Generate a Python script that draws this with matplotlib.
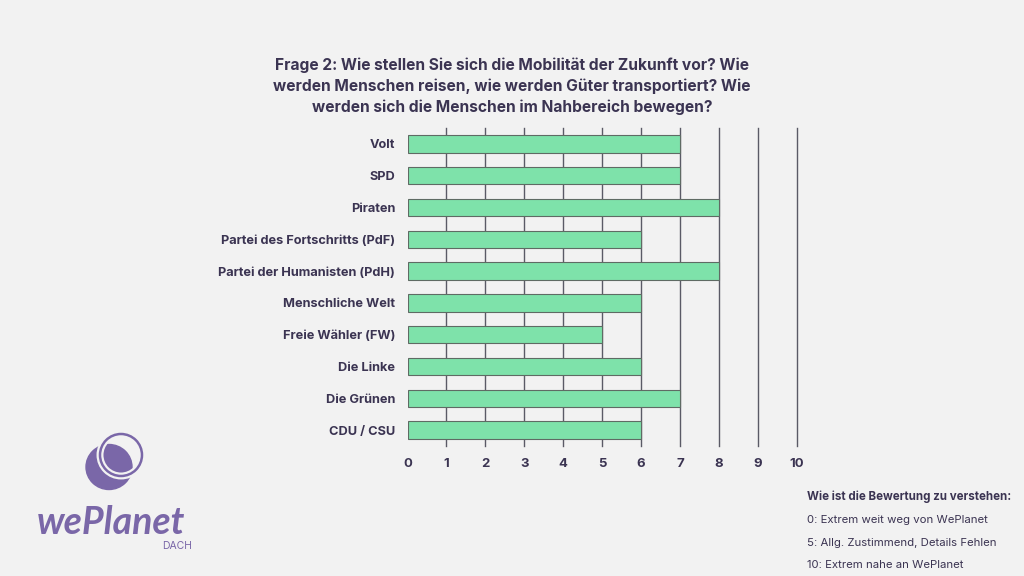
import matplotlib.pyplot as plt
from matplotlib.patches import Ellipse

parties = ['Volt', 'SPD', 'Piraten', 'Partei des Fortschritts (PdF)',
           'Partei der Humanisten (PdH)', 'Menschliche Welt', 'Freie Wähler (FW)',
           'Die Linke', 'Die Grünen', 'CDU / CSU']
scores = [7, 7, 8, 6, 8, 6, 5, 6, 7, 6]
ticks = list(range(0, 11))

title = ('Frage 2: Wie stellen Sie sich die Mobilität der Zukunft vor? Wie\n'
         'werden Menschen reisen, wie werden Güter transportiert? Wie\n'
         'werden sich die Menschen im Nahbereich bewegen?')
legend_head = 'Wie ist die Bewertung zu verstehen:'
legend_lines = ['0: Extrem weit weg von WePlanet',
                '5: Allg. Zustimmend, Details Fehlen',
                '10: Extrem nahe an WePlanet']

bg = '#f2f2f2'
text_col = '#3b3452'
bar_col = '#7ee2aa'
logo_col = '#7a67a8'

plt.rcParams['font.family'] = ['Inter', 'DejaVu Sans']

fig = plt.figure(figsize=(10.24, 5.76), dpi=100, facecolor=bg)
ax = fig.add_axes([0.398, 0.2257, 0.380, 0.552])
ax.set_facecolor(bg)

ypos = list(range(len(parties)))
ax.barh(ypos, scores, height=0.55, color=bar_col, edgecolor='#5f6b64',
        linewidth=0.8, zorder=3)
for t in ticks[1:]:
    ax.axvline(t, color='#5a5a66', linewidth=1.0, zorder=0, clip_on=False)
ax.set_ylim(len(parties) - 0.5, -0.5)
ax.set_xlim(0, 10)
ax.set_xticks(ticks)
ax.set_xticklabels([str(t) for t in ticks], fontweight='bold', fontsize=9.5,
                   color=text_col)
ax.set_yticks(ypos)
ax.set_yticklabels(parties, fontweight='bold', fontsize=9.2, color=text_col)
ax.tick_params(length=0, pad=9)
ax.tick_params(axis='x', pad=9)
for s in ax.spines.values():
    s.set_visible(False)

fig.text(0.5, 1 - 86 / 576, title, ha='center', va='center', fontsize=11.2,
         fontweight='bold', color=text_col, linespacing=1.45)

fig.text(807 / 1024, 1 - 497 / 576, legend_head, ha='left', va='center',
         fontsize=8.3, fontweight='bold', color=text_col)
for i, line in enumerate(legend_lines):
    fig.text(807 / 1024, 1 - (520 + i * 22.5) / 576, line, ha='left',
             va='center', fontsize=8.2, color=text_col)

# logo
fig.patches.append(Ellipse((109 / 1024, 1 - 467 / 576), 46 / 1024, 45 / 576,
                           transform=fig.transFigure, color=logo_col, zorder=5))
fig.patches.append(Ellipse((121 / 1024, 1 - 455 / 576), 42 / 1024, 42 / 576,
                           transform=fig.transFigure, facecolor='none',
                           edgecolor=bg, linewidth=5, zorder=6))
fig.patches.append(Ellipse((121 / 1024, 1 - 455 / 576), 42 / 1024, 42 / 576,
                           transform=fig.transFigure, facecolor='none',
                           edgecolor=logo_col, linewidth=1.8, zorder=7))
fig.text(111 / 1024, 1 - 522 / 576, 'wePlanet', ha='center', va='center',
         fontsize=27, fontweight='bold', style='italic', color=logo_col,
         family=['Lato', 'DejaVu Sans'])
fig.text(177 / 1024, 1 - 546 / 576, 'DACH', ha='center', va='center',
         fontsize=7.5, color=logo_col)

fig.savefig('out.png', dpi=100, facecolor=bg)
